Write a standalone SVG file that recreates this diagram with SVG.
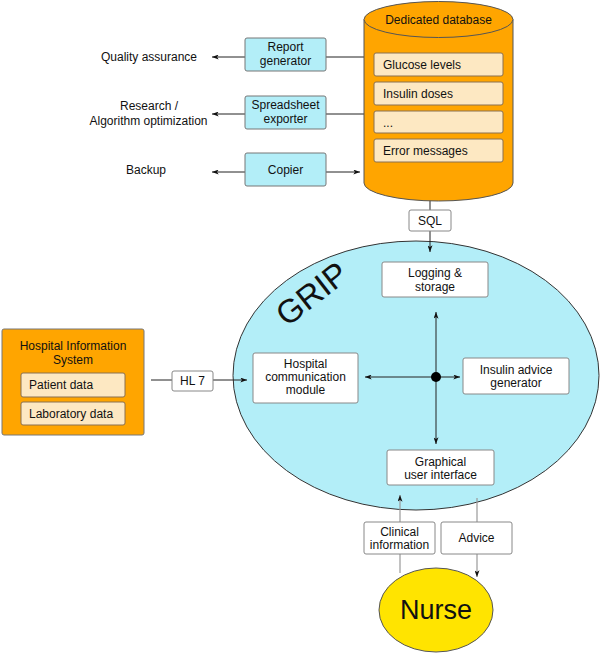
<svg xmlns="http://www.w3.org/2000/svg" width="600" height="653" viewBox="0 0 600 653">
<defs>
<style>
text{font-family:"Liberation Sans",Arial,sans-serif;font-size:12px;fill:#111}
.c{text-anchor:middle}
.box{fill:#fff;stroke:#888;stroke-width:1}
.blue{fill:#b3eef8;stroke:#777;stroke-width:1}
.peach{fill:#fde8c2;stroke:#8a7050;stroke-width:1}
.ln{stroke:#222;stroke-width:1;fill:none}
.gl{stroke:#999;stroke-width:1.2;fill:none}
</style>
<marker id="ah" viewBox="0 0 8 6" refX="8" refY="3" markerWidth="7" markerHeight="5" markerUnits="userSpaceOnUse" orient="auto">
<path d="M0,0 L8,3 L0,6 L2,3 Z" fill="#111"/>
</marker>
</defs>

<g id="grip">
<ellipse cx="416" cy="375.5" rx="183" ry="134.5" fill="#b3eef8" stroke="#333" stroke-width="1"/>
<text x="312" y="305" class="c" transform="rotate(-38 312 294)" style="font-size:33px">GRIP</text>
</g>

<g id="connectors">
<line class="ln" x1="364" y1="57" x2="326" y2="57"/>
<line class="ln" x1="245" y1="57" x2="212" y2="57" marker-end="url(#ah)"/>
<line class="ln" x1="364" y1="114" x2="326" y2="114"/>
<line class="ln" x1="245" y1="114" x2="212" y2="114" marker-end="url(#ah)"/>
<line class="ln" x1="326" y1="172" x2="360" y2="172" marker-end="url(#ah)"/>
<line class="ln" x1="245" y1="172" x2="212" y2="172" marker-end="url(#ah)"/>
<line class="ln" x1="430" y1="210" x2="430" y2="185" marker-end="url(#ah)"/>
<line class="ln" x1="430" y1="231" x2="430" y2="252" marker-end="url(#ah)"/>
<line class="ln" x1="436" y1="377" x2="436" y2="312" marker-end="url(#ah)"/>
<line class="ln" x1="436" y1="377" x2="436" y2="444" marker-end="url(#ah)"/>
<line class="ln" x1="436" y1="377" x2="365" y2="377" marker-end="url(#ah)"/>
<line class="ln" x1="436" y1="377" x2="460" y2="377" marker-end="url(#ah)"/>
<circle cx="436" cy="377" r="5" fill="#000"/>
<line class="ln" x1="151" y1="380" x2="247" y2="380" marker-end="url(#ah)"/>
<line class="gl" x1="400" y1="573" x2="400" y2="495" marker-end="url(#ah)"/>
<line class="gl" x1="477" y1="498" x2="477" y2="577" marker-end="url(#ah)"/>
</g>

<g id="database">
<path d="M364,19.5 L364,183 A74.5,18 0 0 0 513,183 L513,19.5 Z" fill="#ffa500" stroke="#555" stroke-width="1"/>
<ellipse cx="438.5" cy="19.5" rx="74.5" ry="18" fill="#ffa500" stroke="#555" stroke-width="1"/>
<text x="438.5" y="24" class="c">Dedicated database</text>
<rect class="peach" x="374" y="53" width="129" height="23" rx="2"/>
<text x="383" y="69">Glucose levels</text>
<rect class="peach" x="374" y="82" width="129" height="23" rx="2"/>
<text x="383" y="98">Insulin doses</text>
<rect class="peach" x="374" y="111" width="129" height="22" rx="2"/>
<text x="383" y="127">...</text>
<rect class="peach" x="374" y="139" width="129" height="23" rx="2"/>
<text x="383" y="155">Error messages</text>
</g>

<g id="report">
<rect class="blue" x="245" y="38" width="81" height="33" rx="2"/>
<text x="285.5" y="51" class="c">Report</text>
<text x="285.5" y="65" class="c">generator</text>
</g>
<g id="spreadsheet">
<rect class="blue" x="245" y="96" width="81" height="33" rx="2"/>
<text x="285.5" y="109" class="c">Spreadsheet</text>
<text x="285.5" y="123" class="c">exporter</text>
</g>
<g id="copier">
<rect class="blue" x="245" y="153" width="81" height="33" rx="2"/>
<text x="285.5" y="174" class="c">Copier</text>
</g>
<g id="quality"><text x="197" y="61" text-anchor="end">Quality assurance</text></g>
<g id="research">
<text x="149" y="110" class="c">Research /</text>
<text x="148.5" y="125" class="c">Algorithm optimization</text>
</g>
<g id="backup"><text x="146" y="174" class="c">Backup</text></g>

<g id="sql">
<rect class="box" x="409" y="210" width="42" height="21" rx="2"/>
<text x="430" y="225" class="c">SQL</text>
</g>

<g id="logging">
<rect class="box" x="382" y="262" width="106" height="35" rx="2"/>
<text x="435" y="277" class="c">Logging &amp;</text>
<text x="435" y="291" class="c">storage</text>
</g>
<g id="hcm">
<rect class="box" x="253" y="353" width="105" height="50" rx="2"/>
<text x="305.5" y="368" class="c">Hospital</text>
<text x="305.5" y="381" class="c">communication</text>
<text x="305.5" y="394" class="c">module</text>
</g>
<g id="iag">
<rect class="box" x="463" y="358" width="106" height="36" rx="2"/>
<text x="516" y="374" class="c">Insulin advice</text>
<text x="516" y="387" class="c">generator</text>
</g>
<g id="gui">
<rect class="box" x="387" y="450" width="107" height="35" rx="2"/>
<text x="440.5" y="466" class="c">Graphical</text>
<text x="440.5" y="479" class="c">user interface</text>
</g>

<g id="his">
<rect x="2" y="329" width="142" height="106" rx="2" fill="#ffa500" stroke="#777" stroke-width="1"/>
<text x="73" y="350" class="c">Hospital Information</text>
<text x="73" y="364" class="c">System</text>
<rect class="peach" x="21" y="373" width="104" height="24" rx="2"/>
<text x="29" y="389">Patient data</text>
<rect class="peach" x="21" y="402" width="104" height="23" rx="2"/>
<text x="29" y="418">Laboratory data</text>
</g>
<g id="hl7">
<rect class="box" x="172" y="371" width="41" height="20" rx="2"/>
<text x="192.5" y="385" class="c">HL 7</text>
</g>

<g id="clinical">
<rect class="box" x="364" y="522" width="71" height="32" rx="2"/>
<text x="399.5" y="536" class="c">Clinical</text>
<text x="399.5" y="549" class="c">information</text>
</g>
<g id="advice">
<rect class="box" x="441" y="522" width="71" height="32" rx="2"/>
<text x="476.5" y="542" class="c">Advice</text>
</g>

<g id="nurse">
<ellipse cx="436" cy="610" rx="57" ry="42" fill="#ffe400" stroke="#555" stroke-width="1"/>
<text x="436" y="619" class="c" style="font-size:27px">Nurse</text>
</g>
</svg>
